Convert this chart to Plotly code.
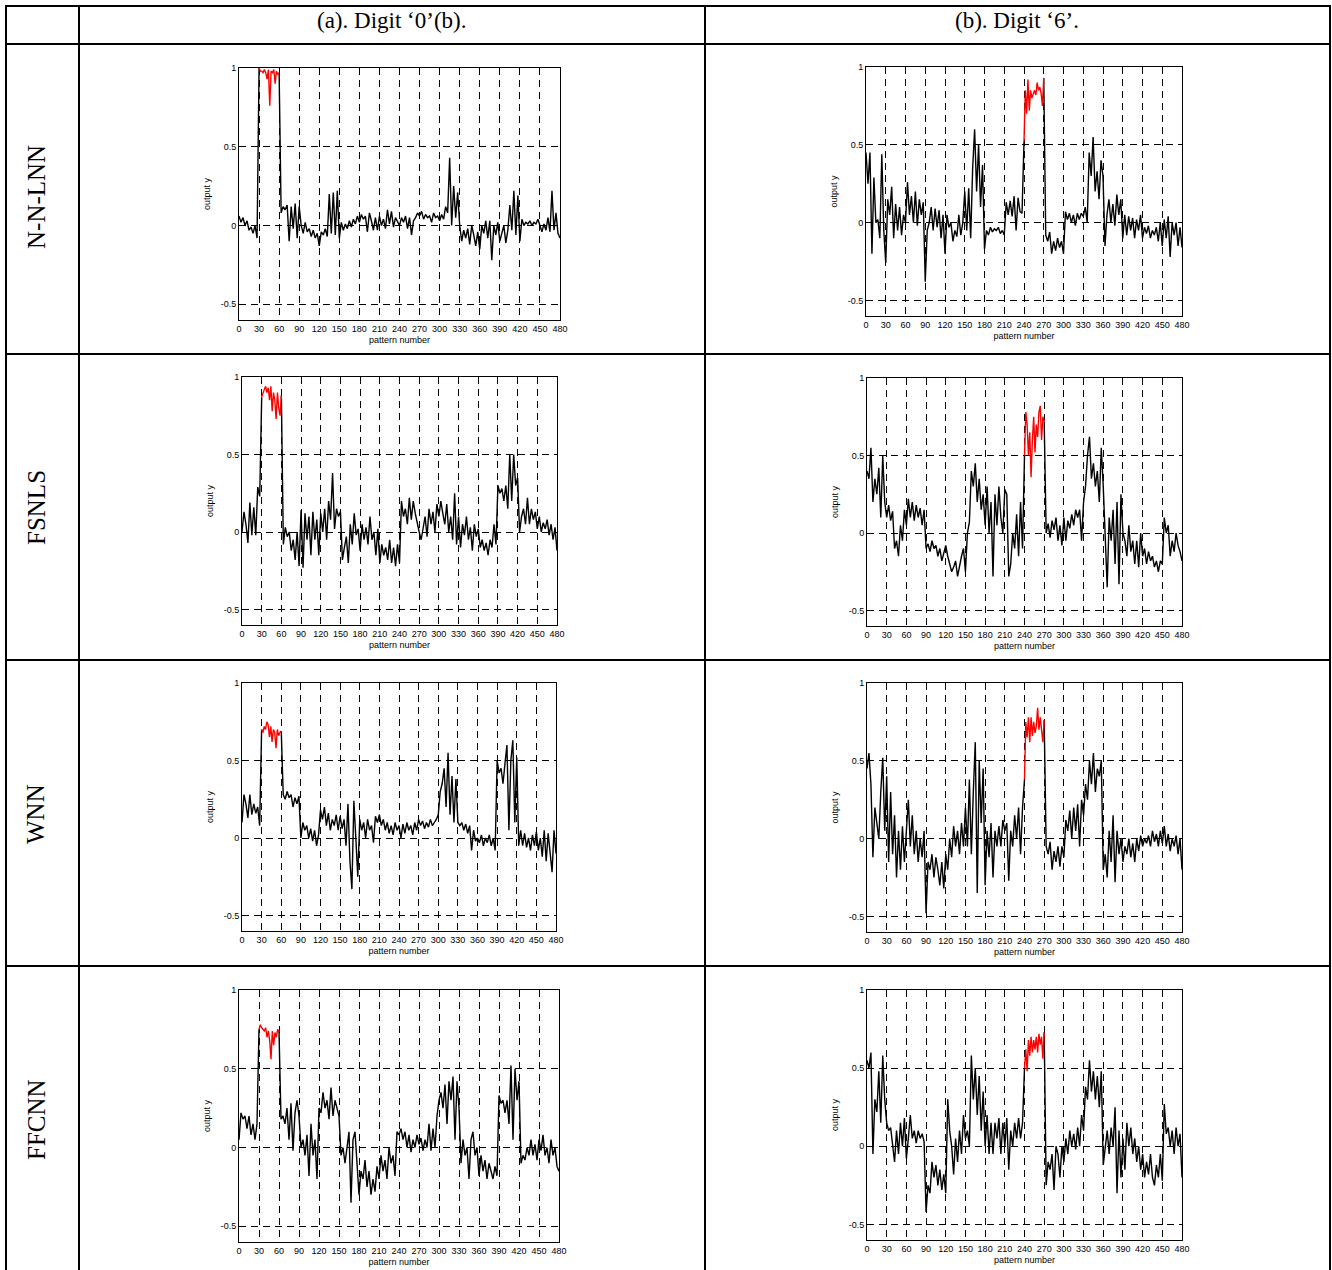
import numpy as np
import plotly.graph_objects as go

W, H = 1332, 1270

methods = ["N-N-LNN", "FSNLS", "WNN", "FFCNN"]
col_titles = ["(a). Digit \u20180\u2019(b).", "(b). Digit \u20186\u2019."]
x_tick_vals = list(range(0, 481, 30))
y_tick_vals = [-0.5, 0, 0.5, 1]
y_tick_text = ["-0.5", "0", "0.5", "1"]
x_title = "pattern number"
y_title = "output y"

# pattern-number spans of each segment (target class highlighted in red)
span_digit0 = {"pre": (0, 27), "red": (30, 60), "post": (63, 480)}
span_digit6 = {"pre": (0, 237), "red": (240, 270), "post": (273, 480)}

# ---------------- N-N-LNN, digit 0 ----------------
nnlnn0_pre = [0.06, 0.02, 0.05, 0.0, 0.03, -0.03, -0.01, -0.05, 0.0, -0.08]
nnlnn0_red = [1.0, 0.98, 0.98, 0.97, 0.99, 0.97, 0.93, 0.99, 0.76, 0.98, 0.97, 0.99, 0.9, 0.98, 0.96, 0.97]
nnlnn0_post = [0.08, 0.12, 0.1, 0.13, -0.1, 0.12, -0.02, 0.14, -0.08, 0.12,
               0.0, -0.05, 0.02, -0.04, -0.02, -0.07, -0.03, -0.08, -0.05, -0.13,
               -0.04, -0.06, -0.02, -0.07, 0.2, -0.05, 0.21, -0.06, 0.22, -0.08,
               0.02, -0.03, 0.01, -0.02, 0.03, -0.01, 0.04, 0.01, 0.06, 0.02,
               0.07, 0.04, 0.06, -0.04, 0.08, 0.03, -0.03, 0.05, -0.03, 0.06,
               0.0, 0.04, -0.02, 0.1, 0.01, 0.09, -0.01, 0.05, 0.02, 0.0,
               0.05, 0.02, 0.06, -0.02, 0.05, -0.06, 0.03, 0.05, 0.08, 0.06,
               0.09, 0.04, 0.07, 0.05, 0.06, 0.02, 0.08, 0.05, 0.06, 0.03,
               0.07, 0.04, 0.12, 0.08, 0.43, 0.0, 0.25, 0.05, 0.21, 0.0,
               -0.1, -0.03, -0.08, -0.02, -0.12, 0.0, -0.06, -0.13, -0.04, -0.15,
               0.0, -0.05, 0.03, -0.08, 0.03, -0.22, 0.0, -0.06, 0.02, -0.1,
               -0.05, 0.0, -0.11, -0.03, 0.13, -0.03, 0.22, -0.06, 0.19, -0.1,
               0.04, 0.0, 0.02, 0.01, 0.03, 0.0, 0.02, 0.01, 0.04, 0.0,
               -0.04, 0.01, -0.03, 0.05, -0.04, 0.22, -0.03, 0.08, -0.05, -0.08]

# ---------------- N-N-LNN, digit 6 ----------------
nnlnn6_pre = [0.45, 0.25, 0.45, -0.2, 0.29, 0.0, 0.02, -0.1, 0.44, -0.05,
              -0.26, 0.15, 0.05, 0.23, -0.1, 0.12, -0.05, 0.1, -0.08, 0.05,
              0.0, 0.26, 0.05, 0.17, 0.0, 0.2, -0.02, 0.15, 0.05, 0.13,
              -0.38, -0.05, 0.0, 0.1, -0.05, 0.09, -0.03, 0.08, -0.1, 0.05,
              -0.2, 0.05, -0.03, 0.0, -0.12, -0.05, -0.09, 0.05, -0.08, 0.0,
              0.2, -0.05, 0.22, -0.1, 0.35, 0.6, 0.2, 0.5, 0.1, 0.37,
              -0.17, -0.05, -0.08, -0.03, -0.06, -0.04, -0.05, -0.03, -0.07, -0.05,
              -0.08, 0.13, 0.05, 0.14, 0.04, 0.17, -0.05, 0.16, 0.07, 0.06]
nnlnn6_red = [0.52, 0.85, 0.7, 0.92, 0.72, 0.85, 0.8, 0.83, 0.85, 0.82, 0.9, 0.85, 0.87, 0.83, 0.75, 0.93]
nnlnn6_post = [-0.08, -0.12, -0.06, -0.2, -0.12, -0.18, -0.1, -0.16, -0.12, -0.2,
               0.07, 0.02, 0.06, 0.0, 0.05, -0.02, 0.06, 0.02, 0.06, 0.04,
               0.1, 0.0, 0.45, 0.3, 0.55, 0.2, 0.33, 0.15, 0.4, 0.3,
               -0.15, 0.05, 0.15, 0.0, 0.12, -0.02, 0.18, 0.05, 0.15, -0.1,
               0.05, -0.08, 0.04, -0.05, 0.03, -0.1, 0.02, -0.05, 0.05, -0.1,
               -0.03, -0.07, -0.02, -0.1, -0.05, -0.08, -0.03, -0.12, 0.0, -0.15,
               0.02, -0.1, 0.04, -0.22, 0.0, -0.08, 0.0, -0.15, -0.03, -0.16]

# ---------------- FSNLS, digit 0 ----------------
fsnls0_pre = [0.0, 0.13, 0.05, -0.07, 0.19, -0.02, 0.16, -0.02, 0.29, 0.23]
fsnls0_red = [0.87, 0.9, 0.92, 0.94, 0.9, 0.93, 0.85, 0.94, 0.78, 0.9, 0.85, 0.73, 0.9, 0.8, 0.75, 0.88]
fsnls0_post = [-0.08, 0.03, -0.03, 0.0, -0.12, -0.05, -0.18, 0.0, -0.22, 0.14,
               -0.23, 0.12, -0.05, 0.1, -0.15, 0.13, -0.05, 0.08, -0.15, 0.12,
               0.0, 0.15, -0.05, 0.2, 0.08, 0.38, 0.02, 0.15, 0.1, 0.13,
               -0.18, -0.1, -0.03, -0.2, 0.05, -0.08, 0.12, -0.02, 0.02, -0.12,
               0.05, -0.05, 0.03, -0.08, 0.1, -0.05, 0.0, -0.15, 0.02, -0.2,
               -0.08, -0.15, -0.1, -0.18, -0.05, -0.2, -0.1, -0.22, -0.08, -0.2,
               0.2, 0.1, 0.15, 0.05, 0.22, 0.08, 0.2, 0.12, 0.05, 0.0,
               -0.05, 0.02, 0.1, -0.03, 0.15, 0.05, 0.13, 0.0, 0.18, 0.1,
               0.2, 0.12, 0.05, 0.18, 0.0, 0.1, -0.05, 0.25, -0.08, 0.1,
               -0.1, 0.05, -0.02, 0.1, -0.05, 0.03, -0.12, 0.05, -0.03, 0.02,
               -0.1, -0.05, -0.12, -0.07, -0.15, -0.05, -0.1, 0.05, -0.08, 0.3,
               0.25, 0.28, 0.2, 0.3, 0.15, 0.5, 0.2, 0.5, 0.3, 0.35,
               0.0, 0.1, 0.15, 0.05, 0.22, 0.05, 0.15, 0.08, 0.13, 0.02,
               0.1, 0.0, 0.06, 0.02, 0.08, -0.02, 0.05, -0.05, 0.03, -0.12]

# ---------------- FSNLS, digit 6 ----------------
fsnls6_pre = [0.4, 0.35, 0.55, 0.2, 0.35, 0.25, 0.42, 0.1, 0.5, 0.2,
              0.1, 0.18, 0.08, 0.14, -0.1, -0.05, -0.15, 0.05, -0.05, 0.15,
              0.05, 0.22, 0.1, 0.2, 0.08, 0.18, 0.1, 0.16, 0.05, 0.15,
              -0.1, -0.07, -0.12, -0.05, -0.1, -0.08, -0.15, -0.1, -0.18, -0.12,
              -0.08, -0.15, -0.2, -0.25, -0.22, -0.18, -0.28, -0.2, -0.15, -0.1,
              -0.25, 0.0, 0.07, 0.4, 0.3, 0.45, 0.2, 0.35, 0.15, 0.25,
              0.05, 0.3, 0.0, 0.2, -0.28, 0.25, 0.05, 0.3, 0.1, 0.0,
              0.28, 0.25, -0.28, -0.2, 0.0, -0.1, 0.12, -0.15, 0.2, -0.1]
fsnls6_red = [0.5, 0.78, 0.7, 0.5, 0.65, 0.36, 0.6, 0.75, 0.52, 0.7, 0.62, 0.78, 0.82, 0.6, 0.75, 0.72]
fsnls6_post = [0.0, 0.06, -0.03, 0.08, 0.02, 0.1, -0.05, 0.05, -0.08, 0.1,
               -0.05, 0.08, 0.03, 0.12, 0.05, 0.15, 0.1, 0.15, -0.05, 0.2,
               0.3, 0.5, 0.62, 0.35, 0.45, 0.3, 0.4, 0.2, 0.55, 0.3,
               -0.1, -0.35, 0.1, -0.05, 0.15, -0.2, 0.2, -0.33, 0.25, 0.0,
               -0.05, -0.15, 0.05, -0.12, -0.05, -0.2, -0.05, -0.22, 0.0, -0.15,
               -0.1, -0.2, -0.12, -0.18, -0.15, -0.22, -0.18, -0.25, -0.18, -0.2,
               0.1, 0.0, 0.05, -0.15, -0.05, -0.12, 0.0, -0.08, -0.12, -0.18]

# ---------------- WNN, digit 0 ----------------
wnn0_pre = [0.1, 0.28, 0.22, 0.13, 0.28, 0.15, 0.22, 0.16, 0.2, 0.08]
wnn0_red = [0.7, 0.68, 0.72, 0.7, 0.75, 0.73, 0.65, 0.72, 0.62, 0.7, 0.68, 0.58, 0.7, 0.66, 0.68, 0.69]
wnn0_post = [0.28, 0.25, 0.3, 0.26, 0.28, 0.2, 0.26, 0.22, 0.27, 0.0,
             0.1, 0.05, 0.08, 0.0, 0.06, -0.02, 0.05, -0.05, 0.02, 0.18,
             0.12, 0.2, 0.08, 0.16, 0.05, 0.12, 0.08, 0.15, 0.05, 0.14,
             0.06, 0.12, -0.05, 0.22, -0.15, -0.33, 0.24, 0.0, -0.25, 0.12,
             0.05, 0.1, 0.0, 0.12, 0.05, 0.08, -0.03, 0.14, 0.1, 0.15,
             0.08, 0.12, 0.05, 0.1, 0.03, 0.08, 0.02, 0.1, 0.05, 0.08,
             0.0, 0.09, 0.03, 0.1, 0.05, 0.08, 0.02, 0.1, 0.05, 0.12,
             0.08, 0.11, 0.06, 0.1, 0.07, 0.12, 0.08, 0.1, 0.12, 0.15,
             0.3, 0.35, 0.45, 0.2, 0.55, 0.15, 0.4, 0.1, 0.38, 0.1,
             0.08, 0.1, 0.05, 0.09, 0.03, 0.08, -0.08, 0.05, -0.02, 0.0,
             -0.03, 0.02, -0.05, 0.0, -0.03, 0.02, -0.05, 0.0, -0.08, 0.5,
             0.42, 0.45, 0.35, 0.48, 0.6, 0.05, 0.5, 0.63, 0.1, 0.52,
             -0.05, 0.05, -0.05, 0.03, -0.06, 0.0, -0.08, 0.02, -0.05, 0.04,
             -0.08, 0.0, -0.12, 0.05, -0.15, 0.03, -0.1, -0.22, 0.05, -0.1]

# ---------------- WNN, digit 6 ----------------
wnn6_pre = [0.45, 0.55, 0.35, -0.12, 0.2, 0.1, 0.0, 0.3, 0.52, 0.05,
            0.4, -0.15, 0.3, -0.1, 0.15, -0.25, 0.05, -0.2, 0.08, -0.15,
            0.05, 0.25, -0.05, 0.15, -0.1, 0.05, -0.15, 0.0, -0.12, 0.05,
            -0.48, -0.15, -0.2, -0.1, -0.25, -0.12, -0.2, -0.3, -0.15, -0.32,
            -0.1, -0.2, 0.0, -0.12, 0.08, -0.05, 0.05, -0.1, 0.1, -0.05,
            0.2, -0.05, 0.38, -0.1, 0.3, 0.62, -0.35, 0.5, 0.1, 0.45,
            -0.3, 0.05, -0.12, 0.1, -0.25, 0.05, -0.05, 0.08, -0.05, 0.12,
            0.05, 0.1, -0.27, 0.05, -0.05, 0.15, 0.0, 0.2, -0.1, 0.2]
wnn6_red = [0.38, 0.75, 0.65, 0.78, 0.62, 0.78, 0.66, 0.75, 0.68, 0.72, 0.84, 0.7, 0.78, 0.68, 0.62, 0.76]
wnn6_post = [-0.05, -0.1, -0.02, -0.2, -0.08, -0.15, -0.05, -0.18, -0.05, -0.12,
             0.12, 0.05, 0.18, 0.0, 0.2, 0.05, 0.22, -0.05, 0.25, 0.15,
             0.35, 0.25, 0.5, 0.35, 0.55, 0.3, 0.45, 0.4, 0.5, -0.2,
             -0.1, -0.25, 0.05, -0.15, 0.15, -0.28, 0.05, -0.1, 0.0, -0.15,
             -0.05, -0.1, 0.0, -0.12, -0.03, -0.15, 0.0, -0.08, 0.02, -0.05,
             0.0, -0.03, 0.02, -0.05, 0.05, -0.02, 0.03, -0.05, 0.05, -0.03,
             0.08, -0.05, 0.03, -0.08, 0.0, -0.05, 0.02, -0.1, 0.0, -0.2]

# ---------------- FFCNN, digit 0 ----------------
ffcnn0_pre = [0.05, 0.22, 0.18, 0.2, 0.12, 0.2, 0.08, 0.15, 0.05, 0.15]
ffcnn0_red = [0.75, 0.78, 0.76, 0.75, 0.74, 0.76, 0.7, 0.74, 0.68, 0.56, 0.74, 0.65, 0.73, 0.7, 0.75, 0.74]
ffcnn0_post = [0.18, 0.2, 0.15, 0.25, 0.05, 0.28, -0.02, 0.22, 0.3, 0.2,
               0.0, 0.05, -0.05, 0.08, -0.18, 0.15, -0.05, 0.05, -0.2, 0.25,
               0.22, 0.35, 0.25, 0.3, 0.18, 0.38, 0.2, 0.3, 0.25, 0.2,
               -0.05, 0.0, -0.1, 0.0, 0.1, -0.35, 0.05, 0.1, -0.1, -0.3,
               -0.15, -0.2, -0.08, -0.25, -0.15, -0.3, -0.2, -0.28, -0.12, -0.2,
               -0.05, -0.15, -0.08, -0.2, 0.0, -0.1, -0.05, -0.18, 0.1, 0.08,
               0.12, 0.05, 0.1, 0.0, 0.08, -0.03, 0.05, 0.0, 0.08, 0.02,
               0.06, -0.02, 0.05, 0.0, 0.15, -0.02, 0.12, 0.0, 0.2, 0.3,
               0.35, 0.25, 0.4, 0.15, 0.42, 0.3, 0.45, 0.05, 0.42, 0.25,
               -0.1, 0.05, -0.05, 0.0, -0.2, 0.05, 0.1, -0.05, 0.0, -0.18,
               -0.05, -0.15, -0.08, -0.2, -0.1, -0.15, -0.2, -0.12, -0.18, 0.33,
               0.28, 0.3, 0.22, 0.3, 0.15, 0.52, 0.05, 0.5, 0.3, 0.42,
               -0.1, -0.05, -0.08, 0.0, -0.05, 0.05, -0.05, 0.02, -0.08, 0.05,
               -0.02, 0.08, -0.05, 0.0, -0.1, 0.05, -0.05, 0.0, -0.12, -0.15]

# ---------------- FFCNN, digit 6 ----------------
ffcnn6_pre = [0.55, 0.5, 0.6, -0.05, 0.3, 0.22, 0.48, 0.15, 0.58, 0.3,
              0.15, 0.1, 0.12, 0.02, -0.1, 0.1, -0.05, 0.15, 0.0, 0.18,
              -0.08, 0.05, 0.2, 0.05, 0.1, 0.02, 0.1, 0.05, 0.08, 0.03,
              -0.42, -0.25, -0.3, -0.1, -0.2, -0.12, -0.25, -0.15, -0.28, -0.18,
              -0.3, 0.3, 0.1, 0.0, -0.18, 0.05, -0.1, 0.1, -0.05, 0.2,
              0.05, 0.1, 0.0, 0.58, 0.3, 0.5, 0.2, 0.45, 0.1, 0.35,
              0.0, 0.2, -0.05, 0.15, -0.05, 0.15, 0.05, 0.18, -0.05, 0.15,
              0.0, 0.18, -0.15, 0.1, 0.0, 0.15, 0.05, 0.18, 0.05, 0.15]
ffcnn6_red = [0.5, 0.62, 0.48, 0.68, 0.58, 0.7, 0.6, 0.68, 0.62, 0.7, 0.6, 0.72, 0.65, 0.7, 0.56, 0.73]
ffcnn6_post = [-0.25, -0.1, -0.15, -0.05, -0.28, 0.0, -0.05, -0.2, 0.0, -0.1,
               0.05, -0.05, 0.1, 0.0, 0.08, -0.02, 0.12, 0.0, 0.2, 0.1,
               0.38, 0.3, 0.55, 0.35, 0.48, 0.3, 0.45, 0.25, 0.48, -0.12,
               0.0, 0.1, -0.05, 0.12, 0.0, 0.25, -0.3, 0.1, -0.2, 0.05,
               -0.15, 0.15, 0.0, 0.12, -0.05, 0.05, -0.1, 0.0, -0.15, -0.05,
               -0.2, -0.1, -0.18, -0.05, -0.2, -0.25, -0.12, -0.2, -0.05, -0.22,
               0.27, 0.08, 0.12, 0.0, 0.1, -0.05, 0.12, 0.0, 0.08, -0.2]

panels = [
    (nnlnn0_pre, nnlnn0_red, nnlnn0_post, span_digit0),
    (nnlnn6_pre, nnlnn6_red, nnlnn6_post, span_digit6),
    (fsnls0_pre, fsnls0_red, fsnls0_post, span_digit0),
    (fsnls6_pre, fsnls6_red, fsnls6_post, span_digit6),
    (wnn0_pre, wnn0_red, wnn0_post, span_digit0),
    (wnn6_pre, wnn6_red, wnn6_post, span_digit6),
    (ffcnn0_pre, ffcnn0_red, ffcnn0_post, span_digit0),
    (ffcnn6_pre, ffcnn6_red, ffcnn6_post, span_digit6),
]

# plot-area boxes in screen pixels (left, right, top, bottom)
boxes = [
    (239, 560, 68, 320), (866, 1182, 67, 316),
    (242, 557, 377, 625), (867, 1182, 378, 626),
    (242, 556, 683, 931), (867, 1182, 683, 932),
    (239, 559, 990, 1242), (867, 1182, 990, 1240),
]


def px(xp):
    return xp / W


def py(yp):
    return 1 - yp / H


fig = go.Figure()
layout = {}
axis_font = dict(family="Liberation Sans, Arial", size=9, color="black")
for i, ((pre, red, post, sp), (l, r, t, b)) in enumerate(zip(panels, boxes), start=1):
    xs_pre = np.linspace(sp["pre"][0], sp["pre"][1], len(pre)).tolist()
    xs_red = np.linspace(sp["red"][0], sp["red"][1], len(red)).tolist()
    xs_post = np.linspace(sp["post"][0], sp["post"][1], len(post)).tolist()
    bx = xs_pre + [xs_red[0], None, xs_red[-1]] + xs_post
    by = list(pre) + [red[0], None, red[-1]] + list(post)
    sfx = "" if i == 1 else str(i)
    fig.add_trace(go.Scatter(x=bx, y=by, mode="lines", line=dict(color="black", width=1.4),
                             xaxis="x" + sfx, yaxis="y" + sfx, hoverinfo="skip", connectgaps=False))
    fig.add_trace(go.Scatter(x=xs_red, y=red, mode="lines", line=dict(color="#ff0000", width=1.4),
                             xaxis="x" + sfx, yaxis="y" + sfx, hoverinfo="skip"))
    common = dict(showline=True, mirror=True, linecolor="black", linewidth=1,
                  showgrid=True, gridcolor="black", gridwidth=1, griddash="7px,5px",
                  zeroline=False, ticks="", automargin=False, tickfont=axis_font)
    layout["xaxis" + sfx] = dict(domain=[px(l), px(r)], range=[0, 480], tickvals=x_tick_vals,
                                 anchor="y" + sfx,
                                 title=dict(text=x_title, standoff=3, font=axis_font),
                                 **common)
    layout["yaxis" + sfx] = dict(domain=[py(b), py(t)], range=[-0.6, 1], tickvals=y_tick_vals,
                                 ticktext=y_tick_text, anchor="x" + sfx,
                                 title=dict(text=y_title, standoff=8, font=axis_font),
                                 **common)

# table frame
vlines = [6, 79, 705, 1330]
hlines = [6, 44, 354, 660, 966]
shapes = []
for vx in vlines:
    shapes.append(dict(type="line", xref="paper", yref="paper", x0=px(vx), x1=px(vx), y0=py(5), y1=-0.05,
                       line=dict(color="black", width=2)))
for hy in hlines:
    shapes.append(dict(type="line", xref="paper", yref="paper", x0=px(5), x1=px(1331), y0=py(hy), y1=py(hy),
                       line=dict(color="black", width=2)))

annotations = []
col_centers = [392, 1017]
for cx, txt in zip(col_centers, col_titles):
    annotations.append(dict(text=txt, x=px(cx), y=py(21), xref="paper", yref="paper",
                            showarrow=False, xanchor="center", yanchor="middle",
                            font=dict(family="Liberation Serif, Times New Roman", size=23, color="black")))
row_centers = [197, 508, 814, 1120]
for cy, txt in zip(row_centers, methods):
    annotations.append(dict(text=txt, x=px(36), y=py(cy), xref="paper", yref="paper",
                            showarrow=False, textangle=-90, xanchor="center", yanchor="middle",
                            font=dict(family="Liberation Serif, Times New Roman", size=25, color="black")))

fig.update_layout(width=W, height=H, margin=dict(l=0, r=0, t=0, b=0),
                  paper_bgcolor="white", plot_bgcolor="white", showlegend=False,
                  template="none", shapes=shapes, annotations=annotations, **layout)

fig.write_html("out.html", config={"displayModeBar": False},
               post_script="document.body.style.margin='0px';document.body.style.overflow='hidden';")
